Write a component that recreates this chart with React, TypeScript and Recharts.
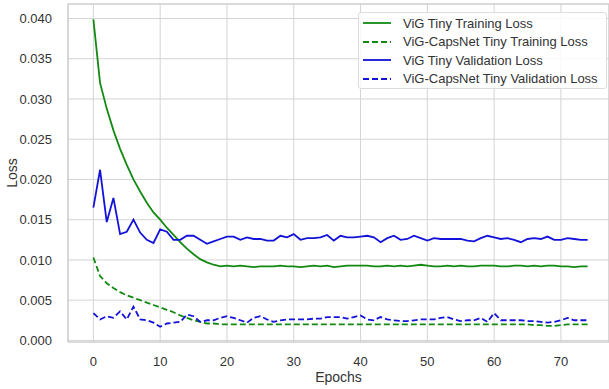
import { CartesianGrid, Legend, Line, LineChart, ReferenceArea, XAxis, YAxis } from 'recharts';

const epochs = Array.from({ length: 75 }, (_, i) => i);

const vigTrain = [
  0.0399, 0.032, 0.0288, 0.0261, 0.0238, 0.0218, 0.02, 0.0185, 0.0171, 0.0159,
  0.015, 0.014, 0.0131, 0.0122, 0.0114, 0.0107, 0.0101, 0.0097, 0.0094, 0.0092,
  0.0093, 0.0092, 0.0093, 0.0092, 0.0091, 0.0092, 0.0092, 0.0092, 0.0093, 0.0092,
  0.0092, 0.0091, 0.0092, 0.0093, 0.0092, 0.0093, 0.0091, 0.0092, 0.0093, 0.0093,
  0.0093, 0.0093, 0.0092, 0.0092, 0.0093, 0.0092, 0.0093, 0.0092, 0.0093, 0.0094,
  0.0093, 0.0092, 0.0092, 0.0093, 0.0092, 0.0093, 0.0092, 0.0092, 0.0093, 0.0093,
  0.0093, 0.0092, 0.0092, 0.0093, 0.0093, 0.0092, 0.0093, 0.0092, 0.0093, 0.0093,
  0.0092, 0.0092, 0.0091, 0.0092, 0.0092,
];
const capsTrain = [
  0.0103, 0.008, 0.0071, 0.0065, 0.006, 0.0056, 0.0053, 0.005, 0.0047, 0.0044,
  0.0041, 0.0038, 0.0035, 0.0031, 0.0028, 0.0025, 0.0023, 0.0021, 0.0021, 0.002,
  0.002, 0.002, 0.002, 0.002, 0.002, 0.002, 0.002, 0.002, 0.002, 0.002,
  0.002, 0.002, 0.002, 0.002, 0.002, 0.002, 0.002, 0.002, 0.002, 0.002,
  0.002, 0.002, 0.002, 0.002, 0.002, 0.002, 0.002, 0.002, 0.002, 0.002,
  0.002, 0.002, 0.002, 0.002, 0.002, 0.002, 0.002, 0.002, 0.002, 0.002,
  0.002, 0.002, 0.002, 0.002, 0.002, 0.002, 0.0019, 0.0019, 0.0018, 0.0018,
  0.0019, 0.002, 0.002, 0.002, 0.002,
];
const vigVal = [
  0.0165, 0.0212, 0.0147, 0.0177, 0.0132, 0.0135, 0.015, 0.0134, 0.0125, 0.0121,
  0.0138, 0.0135, 0.0125, 0.0125, 0.013, 0.013, 0.0125, 0.012, 0.0123, 0.0126,
  0.0129, 0.0129, 0.0125, 0.0128, 0.0126, 0.0126, 0.0124, 0.0124, 0.013, 0.0128,
  0.0132, 0.0125, 0.0127, 0.0127, 0.0128, 0.0131, 0.0124, 0.013, 0.0128, 0.0128,
  0.0129, 0.013, 0.0128, 0.0122, 0.0127, 0.013, 0.0125, 0.0126, 0.013, 0.0127,
  0.0124, 0.0127, 0.0126, 0.0126, 0.0126, 0.0126, 0.0124, 0.0123, 0.0127, 0.013,
  0.0128, 0.0126, 0.0127, 0.0125, 0.0122, 0.0126, 0.0127, 0.0126, 0.0129, 0.0125,
  0.0125, 0.0127, 0.0126, 0.0125, 0.0125,
];
const capsVal = [
  0.0034, 0.0026, 0.003, 0.0028, 0.0036, 0.0026, 0.0042, 0.0026, 0.0025, 0.0022,
  0.0017, 0.0021, 0.0022, 0.0023, 0.0032, 0.003, 0.0023, 0.0025, 0.0025, 0.0028,
  0.003, 0.0028, 0.0025, 0.0022, 0.0028, 0.003, 0.0026, 0.0023, 0.0025, 0.0026,
  0.0026, 0.0026, 0.0026, 0.0027, 0.0027, 0.0029, 0.0029, 0.0029, 0.0027, 0.0029,
  0.0031, 0.0026, 0.0025, 0.0029, 0.0026, 0.0025, 0.0024, 0.0024, 0.0025, 0.0026,
  0.0026, 0.0026, 0.0028, 0.0029, 0.0026, 0.0024, 0.0025, 0.0025, 0.0028, 0.0023,
  0.0034, 0.0025, 0.0025, 0.0025, 0.0025, 0.0024, 0.0024, 0.0023, 0.0022, 0.0023,
  0.0025, 0.0028, 0.0025, 0.0025, 0.0025,
];

const xTicks = [0, 10, 20, 30, 40, 50, 60, 70];
const yTicks = [0, 0.005, 0.01, 0.015, 0.02, 0.025, 0.03, 0.035, 0.04];

const GREEN = '#128a12';
const BLUE = '#1212d8';
const FONT = '"Liberation Sans", Arial, sans-serif';

const series = [
  { key: 'vigTrain', name: 'ViG Tiny Training Loss', color: GREEN, dash: undefined },
  { key: 'capsTrain', name: 'ViG-CapsNet Tiny Training Loss', color: GREEN, dash: '6 3' },
  { key: 'vigVal', name: 'ViG Tiny Validation Loss', color: BLUE, dash: undefined },
  { key: 'capsVal', name: 'ViG-CapsNet Tiny Validation Loss', color: BLUE, dash: '6 3' },
];

const data = epochs.map((e, i) => ({
  epoch: e,
  vigTrain: vigTrain[i],
  capsTrain: capsTrain[i],
  vigVal: vigVal[i],
  capsVal: capsVal[i],
}));

function LossLegend() {
  return (
    <div
      style={{
        background: 'rgba(255,255,255,0.85)',
        border: '1px solid #dcdcdc',
        borderRadius: 3,
        padding: '1px 8px 0 4px',
        fontFamily: FONT,
        fontSize: 13,
        color: '#333',
      }}
    >
      {series.map((s) => (
        <div key={s.key} style={{ display: 'flex', alignItems: 'center', height: 18.5, whiteSpace: 'nowrap' }}>
          <svg width={28} height={6} style={{ marginRight: 12 }}>
            <line x1={0} y1={3} x2={28} y2={3} stroke={s.color} strokeWidth={1.8} strokeDasharray={s.dash} />
          </svg>
          <span>{s.name}</span>
        </div>
      ))}
    </div>
  );
}

export default function App() {
  return (
    <div style={{ position: 'absolute', left: 0, top: 0, width: 609, height: 389, background: '#fff' }}>
      <LineChart width={609} height={389} data={data} margin={{ top: 4, right: 0, left: 0, bottom: 0 }}>
        <CartesianGrid stroke="#d4d4d4" strokeWidth={1} />
        <ReferenceArea
          x1={-3.8}
          x2={77.2}
          y1={-0.0002}
          y2={0.0418}
          fill="none"
          stroke="#cccccc"
          strokeWidth={1.2}
          ifOverflow="visible"
        />
        <XAxis
          dataKey="epoch"
          type="number"
          domain={[-3.8, 77.2]}
          ticks={xTicks}
          allowDataOverflow
          height={47}
          axisLine={false}
          tickLine={false}
          tickMargin={9}
          tick={{ fill: '#333', fontSize: 13, fontFamily: FONT }}
          label={{ value: 'Epochs', position: 'insideBottom', offset: 7, fill: '#333', fontSize: 14, fontFamily: FONT }}
        />
        <YAxis
          type="number"
          domain={[-0.0002, 0.0418]}
          ticks={yTicks}
          allowDataOverflow
          width={68}
          axisLine={false}
          tickLine={false}
          tickMargin={10}
          tickFormatter={(v: number) => v.toFixed(3)}
          tick={{ fill: '#333', fontSize: 13, fontFamily: FONT }}
          label={{ value: 'Loss', angle: -90, position: 'insideLeft', offset: 12, fill: '#333', fontSize: 14, fontFamily: FONT, style: { textAnchor: 'middle' } }}
        />
        <Legend
          verticalAlign="middle"
          align="center"
          layout="horizontal"
          wrapperStyle={{ top: 12, left: 358, right: 'auto', bottom: 'auto', width: 'auto' }}
          content={() => <LossLegend />}
        />
        {series.map((s) => (
          <Line
            key={s.key}
            dataKey={s.key}
            name={s.name}
            type="linear"
            stroke={s.color}
            strokeWidth={1.8}
            strokeDasharray={s.dash}
            dot={false}
            isAnimationActive={false}
          />
        ))}
      </LineChart>
    </div>
  );
}
